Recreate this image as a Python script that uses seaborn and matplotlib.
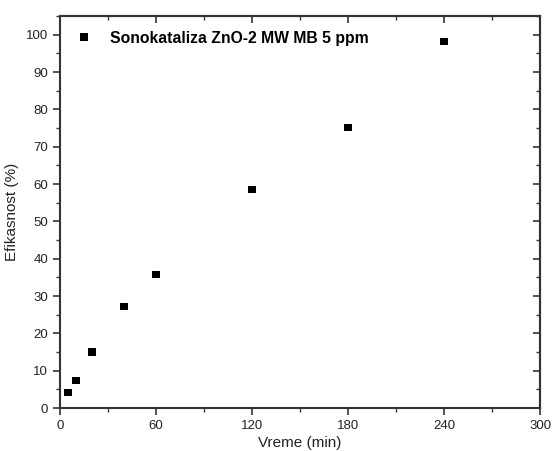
import matplotlib
matplotlib.use("Agg")
import matplotlib.pyplot as plt
import seaborn as sns
import pandas as pd
from matplotlib.ticker import MultipleLocator

time_min = [5, 10, 20, 40, 60, 120, 180, 240]
efficiency = [4.2, 7.4, 15.0, 27.2, 35.8, 58.6, 75.2, 98.2]
series_label = "Sonokataliza ZnO-2 MW MB 5 ppm"

df = pd.DataFrame({"Vreme (min)": time_min, "Efikasnost (%)": efficiency,
                   "series": [series_label] * len(time_min)})

sns.set_style("ticks")
plt.rcParams['font.family'] = ['Liberation Sans', 'DejaVu Sans']

fig = plt.figure(figsize=(5.54, 4.51), dpi=100)
ax = fig.add_axes([0.108, 0.0953, 0.867, 0.8692])

sns.scatterplot(data=df, x="Vreme (min)", y="Efikasnost (%)", hue="series",
                palette=["black"], marker="s", s=28, edgecolor="black",
                linewidth=0, ax=ax)

ax.set_xlim(0, 300)
ax.set_ylim(0, 105)
ax.xaxis.set_major_locator(MultipleLocator(60))
ax.xaxis.set_minor_locator(MultipleLocator(30))
ax.yaxis.set_major_locator(MultipleLocator(10))
ax.yaxis.set_minor_locator(MultipleLocator(5))

for s in ax.spines.values():
    s.set_visible(True)
    s.set_linewidth(1.5)
    s.set_color("#333333")

ax.tick_params(axis="both", which="major", direction="out", length=5, width=1.2,
               colors="#333333", labelsize=9.5, labelcolor="#222222")
ax.tick_params(axis="both", which="minor", direction="out", length=3, width=1.0,
               colors="#333333")
# top/right ticks inward via secondary axes
secx = ax.secondary_xaxis("top")
secx.xaxis.set_major_locator(MultipleLocator(60))
secx.xaxis.set_minor_locator(MultipleLocator(30))
secx.tick_params(which="major", direction="in", length=5, width=1.2, colors="#333333", labeltop=False)
secx.tick_params(which="minor", direction="in", length=3, width=1.0, colors="#333333")
secy = ax.secondary_yaxis("right")
secy.yaxis.set_major_locator(MultipleLocator(10))
secy.yaxis.set_minor_locator(MultipleLocator(5))
secy.tick_params(which="major", direction="in", length=5, width=1.2, colors="#333333", labelright=False)
secy.tick_params(which="minor", direction="in", length=3, width=1.0, colors="#333333")
for s in list(secx.spines.values()) + list(secy.spines.values()):
    s.set_linewidth(1.5)
    s.set_color("#333333")

ax.set_xlabel("Vreme (min)", fontsize=11, labelpad=3, color="#222222")
ax.set_ylabel("Efikasnost (%)", fontsize=11, labelpad=5, color="#222222")

leg = ax.legend(loc="upper left", frameon=False, fontsize=11.3, markerscale=1.0,
                handlelength=2.0, handletextpad=0.66, borderaxespad=0.0,
                bbox_to_anchor=(0.0042, 0.978))
for t in leg.get_texts():
    t.set_fontweight("bold")
    t.set_color("black")

fig.savefig("out.png", dpi=100)
